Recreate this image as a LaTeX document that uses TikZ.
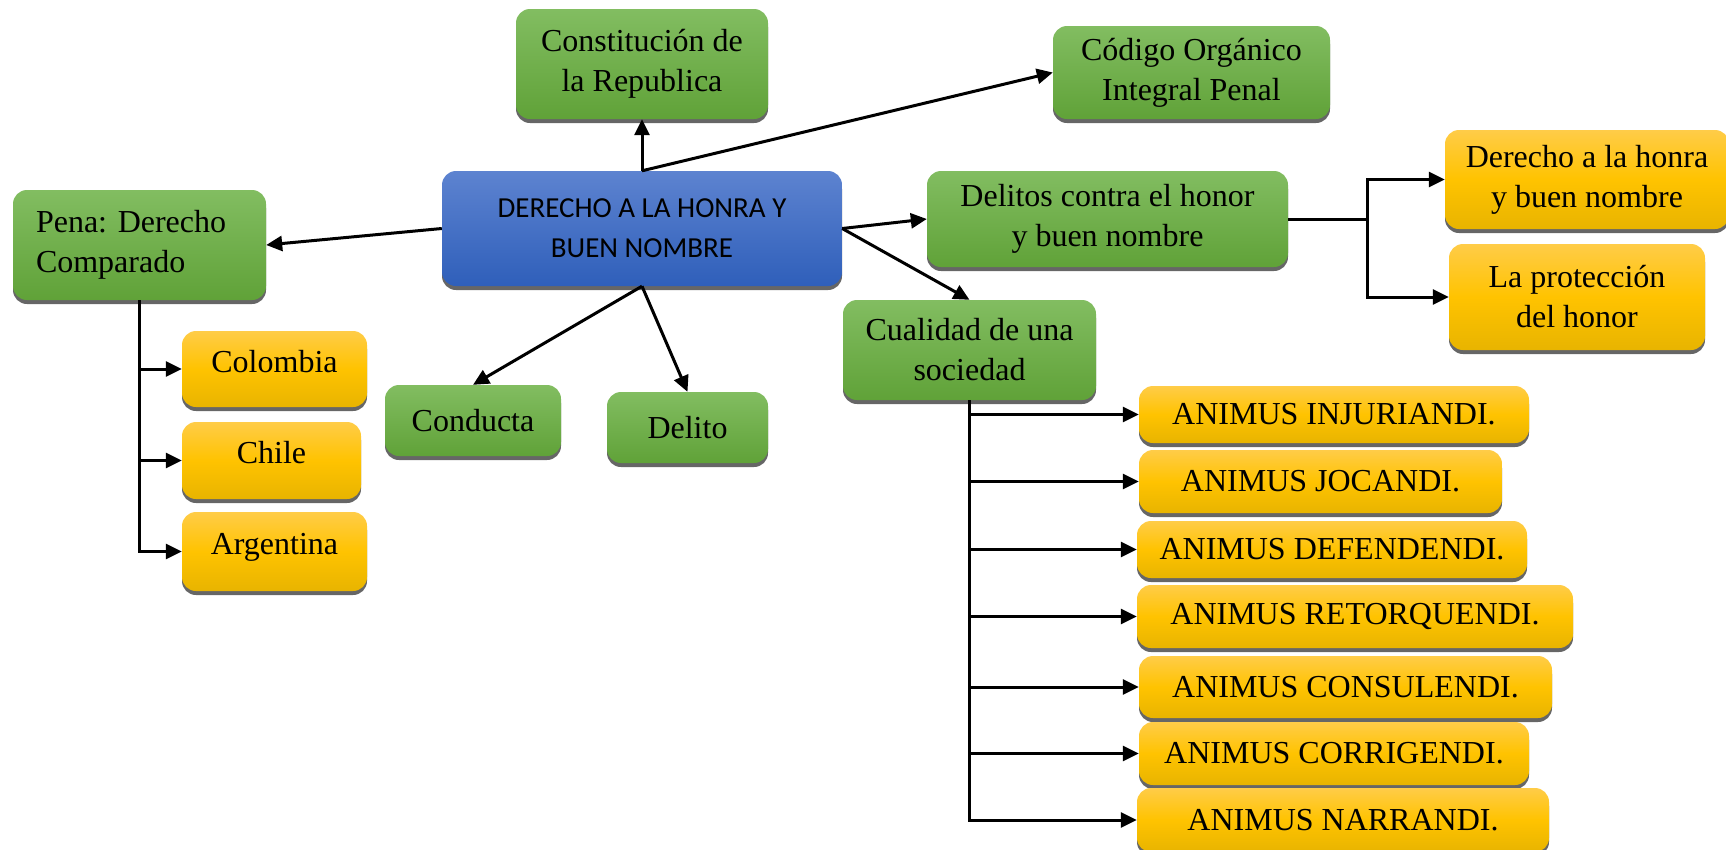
\documentclass[tikz,border=0pt]{standalone}
\usepackage{fontspec}
\setmainfont{Liberation Serif}
\newfontfamily\carlito{Carlito}
\usetikzlibrary{arrows.meta,shadows}
\frenchspacing
\definecolor{greentop}{RGB}{130,189,97}
\definecolor{greenbot}{RGB}{96,162,56}
\definecolor{orangetop}{RGB}{255,204,72}
\definecolor{orangemid}{RGB}{255,195,0}
\definecolor{orangebot}{RGB}{232,180,0}
\definecolor{bluetop}{RGB}{93,131,208}
\definecolor{bluebot}{RGB}{47,95,186}
\begin{document}
\begin{tikzpicture}
[x=1pt,y=-1pt,
 boxdecorate/.style={rounded corners=14pt,inner sep=0pt,align=center,
   font=\fontsize{32}{40}\selectfont,
   drop shadow={shadow xshift=0pt,shadow yshift=-4pt,fill=black!60,opacity=1}},%
 greendecorate/.style={boxdecorate,top color=greentop,bottom color=greenbot},%
 orangedecorate/.style={boxdecorate,top color=orangetop,bottom color=orangebot,middle color=orangemid},%
 bluedecorate/.style={boxdecorate,top color=bluetop,bottom color=bluebot,
   font=\carlito\fontsize{29}{40}\selectfont},%
 arrowdecorate/.style={-{Triangle[length=16pt,width=15pt]},line width=3pt}]
\useasboundingbox (0,0) rectangle (1726,849);
%% boxes
\node (derecho) at (642,228.5) [bluedecorate,minimum width=400pt,minimum height=115pt]
  {DERECHO A LA HONRA Y\\BUEN NOMBRE};
\node (constitucion) at (642,64) [greendecorate,minimum width=252pt,minimum height=110pt]
  {Constitución de\\la Republica};
\node (codigo) at (1191.5,72.5) [greendecorate,minimum width=277pt,minimum height=93pt]
  {Código Orgánico\\Integral Penal};
\node (pena) at (139.5,245) [greendecorate,minimum height=110pt,align=left,
  text width=207pt,inner xsep=23pt] {Pena: Derecho\\Comparado};
\node (delitos) at (1107.5,219) [greendecorate,minimum width=361pt,minimum height=96pt]
  {Delitos contra el honor\\y buen nombre};
\node (honra) at (1587,179.5) [orangedecorate,minimum width=284pt,minimum height=99pt]
  {Derecho a la honra\\y buen nombre};
\node (proteccion) at (1577,297) [orangedecorate,minimum width=256pt,minimum height=106pt]
  {La protección\\del honor};
\node (cualidad) at (969.5,350) [greendecorate,minimum width=253pt,minimum height=100pt]
  {Cualidad de una\\sociedad};
\node (conducta) at (473,420.5) [greendecorate,minimum width=176pt,minimum height=71pt]
  {Conducta};
\node (delito) at (687.5,427.5) [greendecorate,minimum width=161pt,minimum height=71pt]
  {Delito};
\foreach \nodename/\x/\y/\w/\h/\name in {colombia/274.5/369/185/76/Colombia,
  chile/271.5/460.5/179/77/Chile, argentina/274.5/551.5/185/79/Argentina} {
  \node (\nodename) at (\x,\y) [orangedecorate,minimum width=\w pt,minimum height=\h pt,
    text depth=16pt] {\name};
  \draw[arrowdecorate] (pena.south) |- (\nodename.west);
}
\foreach \nodename/\x/\y/\w/\h/\name in {injuriandi/1334/414.5/390/57/INJURIANDI,
  jocandi/1320.5/481.5/363/63/JOCANDI, defendendi/1332/549.5/390/57/DEFENDENDI,
  retorquendi/1355/616.5/436/63/RETORQUENDI, consulendi/1345.5/687/413/62/CONSULENDI,
  corrigendi/1334/753.5/390/63/CORRIGENDI, narrandi/1343/820/412/64/NARRANDI} {
  \node (\nodename) at (\x,\y) [orangedecorate,minimum width=\w pt,minimum height=\h pt]
    {ANIMUS \name.};
  \draw[arrowdecorate] (cualidad.south) |- (\nodename.west);
}
%% arrows
\coordinate (dsplit) at (1367,219);
\draw[arrowdecorate] (delitos.east) -- (dsplit) |- (honra.west);
\draw[arrowdecorate] (dsplit) |- (proteccion.west);
\draw[arrowdecorate] (derecho.north) -- (constitucion.south);
\draw[arrowdecorate] (derecho.north) -- (codigo.west);
\draw[arrowdecorate] (derecho.west) -- (pena.east);
\draw[arrowdecorate] (derecho.east) -- (delitos.west);
\draw[arrowdecorate] (derecho.east) -- (cualidad.north);
\draw[arrowdecorate] (derecho.south) -- (conducta.north);
\draw[arrowdecorate] (derecho.south) -- (delito.north);
\end{tikzpicture}
\end{document}
